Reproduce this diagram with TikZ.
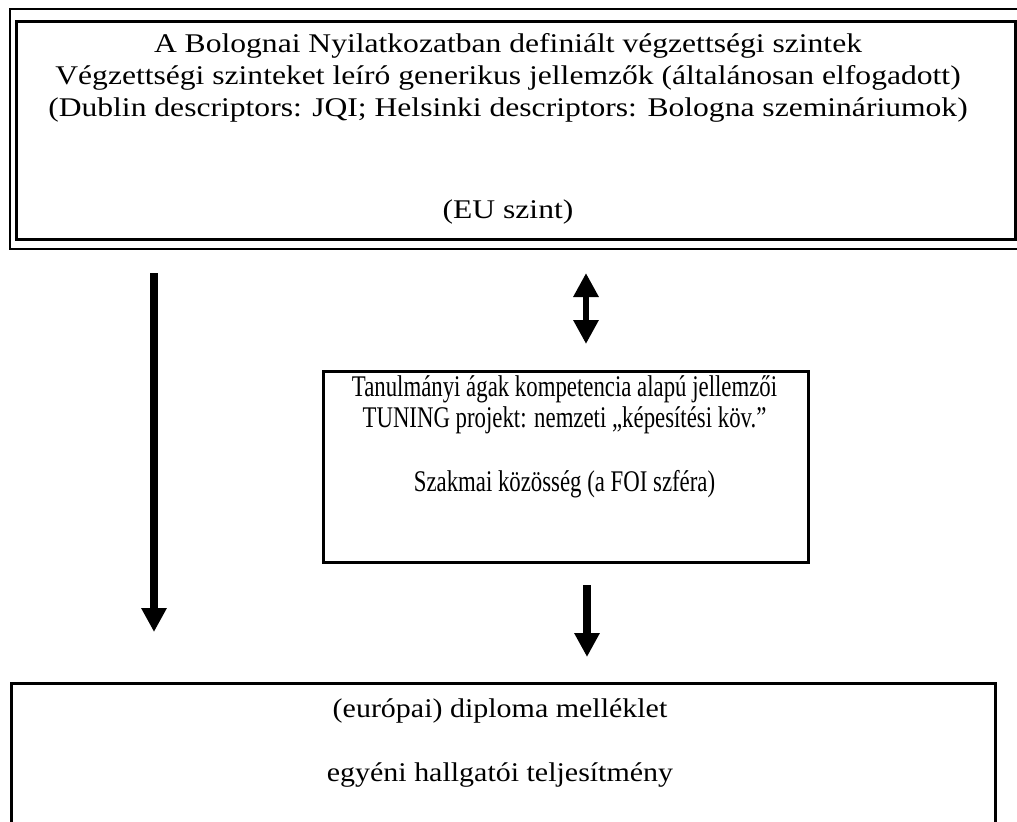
\documentclass[tikz,border=0pt]{standalone}
\usepackage{graphicx}
\usepackage{fontspec}
\setmainfont{Liberation Serif}
\newfontfamily\eufont{Liberation Serif}[FakeStretch=1.17]
\newfontfamily\diplomafont{Liberation Serif}[FakeStretch=1.11]
\usetikzlibrary{arrows.meta}

\begin{document}
\begin{tikzpicture}[x=0.5pt,y=-0.5pt,
	frame/.style={draw, line width=1.4pt, inner sep=0pt, anchor=north west},
	boxtext/.style={align=center, inner sep=0pt},
	bigarrow/.style={line width=4pt, -{Triangle[width=12pt,length=12pt]}},
	]
	\path[use as bounding box, fill=white] (0,0) rectangle (1017,821);
	% EU szint
	\draw[line width=1.4pt] (1030,9) -- (10,9) -- (10,249) -- (1030,249);
	\node[frame, minimum width=499.5pt, minimum height=109pt] (eu) at (15,20) {};
	\node[boxtext, font=\eufont\fontsize{13.5}{16}\selectfont] (eutext) at (508,78) {A Bolognai Nyilatkozatban definiált végzettségi szintek\\
		Végzettségi szinteket leíró generikus jellemzők (általánosan elfogadott)\\
		(Dublin descriptors: JQI; Helsinki descriptors: Bologna szemináriumok)};
	\node[boxtext, font=\eufont\fontsize{13.5}{16}\selectfont] (eulevel) at (508,212) {(EU szint)};
	% tanulmanyi agak
	\node[frame, minimum width=242.5pt, minimum height=95.5pt] (tuning) at (322,370) {};
	\node[boxtext] (tuningtext) at (564.5,438) {\scalebox{0.76}[1]{\fontsize{15}{15.5}\selectfont
		\begin{tabular}{@{}c@{}}Tanulmányi ágak kompetencia alapú jellemzői\\
		TUNING projekt: nemzeti „képesítési köv.”\\[16.5pt]
		Szakmai közösség (a FOI szféra)\end{tabular}}};
	% diploma
	\node[frame, minimum width=492pt, minimum height=100pt] (diploma) at (10,682) {};
	\node[boxtext, font=\diplomafont\fontsize{13.5}{16}\selectfont] (diplomatext) at (500,743) {(európai) diploma melléklet\\[16pt]
		egyéni hallgatói teljesítmény};
	% nyilak
	\coordinate (leftA) at (154,273);
	\coordinate (leftB) at (154,632);
	\coordinate (midA) at (586,273);
	\coordinate (midB) at (586,344);
	\coordinate (lowA) at (587,585);
	\coordinate (lowB) at (587,657);
	\draw[bigarrow] (leftA) -- (leftB);
	\draw[line width=3pt, {Triangle[width=12pt,length=12pt]}-{Triangle[width=12pt,length=12pt]}] (midA) -- (midB);
	\draw[bigarrow] (lowA) -- (lowB);
\end{tikzpicture}
\end{document}
